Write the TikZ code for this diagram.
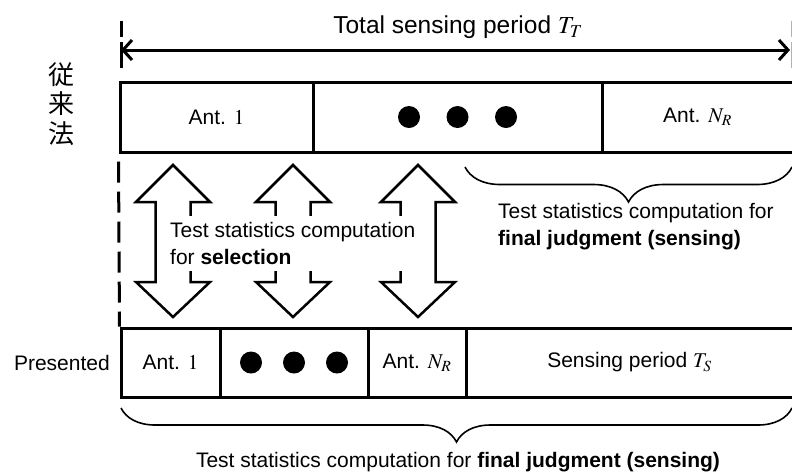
\documentclass[tikz,border=0pt]{standalone}
\usepackage{mathptmx}
\usepackage[no-math]{fontspec}
\setmainfont{Liberation Sans}
\newfontfamily\cjkfont{Noto Sans CJK JP}
\usetikzlibrary{arrows.meta}
\usetikzlibrary{decorations.pathreplacing}
\def\lblfont{\fontsize{21}{27}\selectfont}

\begin{document}
\begin{tikzpicture}[x=1pt,y=-1pt,
  every node/.style={font=\lblfont},
  cell/.style={draw,line width=3pt,minimum height=70pt,inner sep=0pt},
  dot/.style={circle,fill,minimum size=22pt,inner sep=0pt},
  blockarrow/.style={line width=2.5pt,miter limit=20},
  bracestyle/.style={decorate,line width=1.6pt},
  tick/.style={line width=3pt,dash pattern=on 16pt off 5pt on 40pt}]
\useasboundingbox (0,0) rectangle (792,475);

% conventional scheme
\node[align=center,font=\cjkfont\fontsize{26}{29.5}\selectfont] (conv) at (61,104) {従\\来\\法};
\node[cell,minimum width=193pt] (conv1) at (216.5,117) {Ant. $1$};
\node[cell,minimum width=289pt] (convdots) at (457.5,117) {};
\node[cell,minimum width=191pt] (convN) at (697.5,117) {Ant. $N_R$};
\node[dot] (cd1) at ([xshift=-48.5pt]convdots.center) {};
\node[dot] (cd2) at (convdots.center) {};
\node[dot] (cd3) at ([xshift=48.5pt]convdots.center) {};

% total period
\coordinate (tl) at (121,50);
\coordinate (tr) at (790,50);
\draw[tick] (121,21) -- (121,68);
\draw[tick,gray!60] (792,21) -- (792,68);
\draw[line width=3pt,{Straight Barb[length=9pt,width=20pt]}-{Straight Barb[length=9pt,width=20pt]}] (tl) -- (tr);
\node[font=\fontsize{24.5}{30}\selectfont] (total) at (458,27) {Total sensing period $T_T$};

% presented scheme
\node[anchor=east,inner sep=0pt] (pres) at (110,363) {Presented};
\node[cell,minimum width=99pt,minimum height=69pt] (pres1) at (170.5,362.5) {Ant. $1$};
\node[cell,minimum width=148pt,minimum height=69pt] (presdots) at (294,362.5) {};
\node[cell,minimum width=98pt,minimum height=69pt] (presN) at (417,362.5) {Ant. $N_R$};
\node[cell,minimum width=327pt,minimum height=69pt] (presTs) at (629.5,362.5) {Sensing period $T_S$};
\node[dot] (pd1) at ([xshift=-43pt]presdots.center) {};
\node[dot] (pd2) at (presdots.center) {};
\node[dot] (pd3) at ([xshift=43pt]presdots.center) {};

\draw[line width=3pt,dash pattern=on 21pt off 9pt] (conv1.south west) ++(0,8) -- (pres1.north west);

% selection arrows
\foreach \cx in {173,293,418}
  \draw[blockarrow] (\cx,165) -- ++(37,37) -- ++(-19.5,0) -- ++(0,80) -- ++(19.5,0)
    -- ++(-37,35) -- ++(-37,-35) -- ++(19.5,0) -- ++(0,-80) -- ++(-19.5,0) -- cycle;
\node[fill=white,anchor=west,align=left,inner xsep=8pt,inner ysep=6pt] (sel) at (162,243.5)
  {Test statistics computation\\for \textbf{selection}};

% braces
\draw[bracestyle,decoration={brace,mirror,amplitude=35pt}] (465,167) -- (792,167);
\node[anchor=west,align=left,inner sep=0pt] (convjudge) at (498,226.5)
  {Test statistics computation for\\\textbf{final judgment (sensing)}};
\draw[bracestyle,decoration={brace,mirror,amplitude=34pt}] (121,408) -- (792,408);
\node (presjudge) at (458,462) {Test statistics computation for \textbf{final judgment (sensing)}};
\end{tikzpicture}
\end{document}
